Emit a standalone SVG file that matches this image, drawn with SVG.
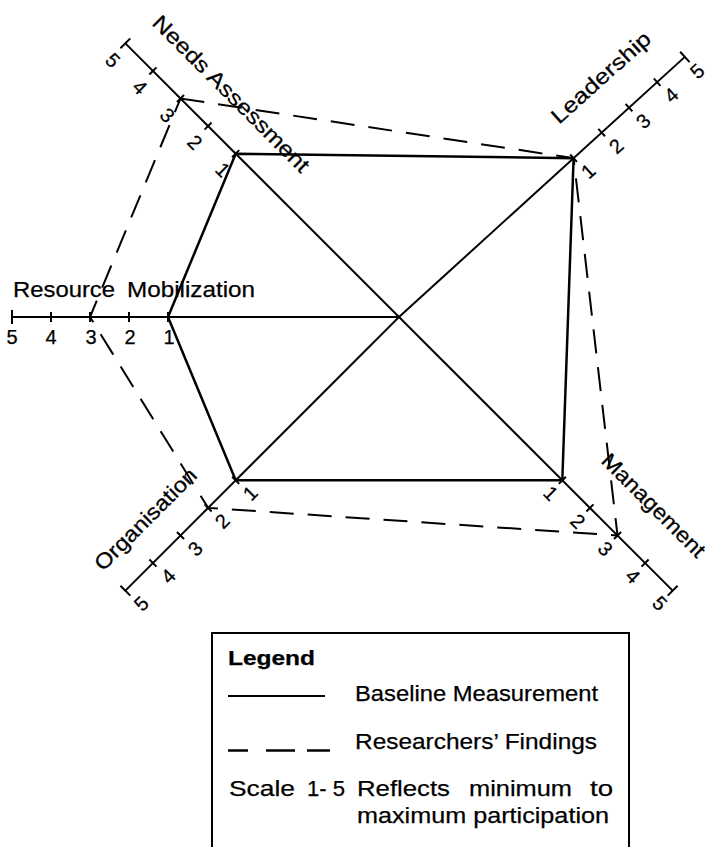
<svg xmlns="http://www.w3.org/2000/svg" width="707" height="847" viewBox="0 0 707 847">
<style>
text{font-family:"Liberation Sans",Arial,Helvetica,sans-serif;fill:#000;stroke:#000;stroke-width:0.25}
.lbl{font-size:21.5px}
.leg{font-size:22px}
.num{font-size:20px;text-anchor:middle}
.axis line,.axis path{stroke:#000;stroke-width:2;fill:none}
.base{stroke:#000;stroke-width:2.5;fill:none;stroke-linejoin:miter}
.find{stroke:#000;stroke-width:2;fill:none;stroke-dasharray:24 14}
</style>
<rect width="707" height="847" fill="#fff"/>

<g id="connectors">
  <g id="axes" class="axis">
    <g id="axis-resource" transform="translate(399,317) rotate(180)">
      <line x1="0" y1="0" x2="387" y2="0"/>
      <path d="M231,-5v10M270,-5v10M309,-5v10M348,-5v10M387,-7v14"/>
    </g>
    <g id="axis-needs" transform="translate(399,317) rotate(225)">
      <line x1="0" y1="0" x2="387" y2="0"/>
      <path d="M231,-5v10M270,-5v10M309,-5v10M348,-5v10M387,-7v14"/>
    </g>
    <g id="axis-leadership" transform="translate(399,317) rotate(-42.3)">
      <line x1="0" y1="0" x2="386.5" y2="0"/>
      <path d="M236,-5v10M274,-5v10M311,-5v10M349,-5v10M386.5,-7v14"/>
    </g>
    <g id="axis-management" transform="translate(399,317) rotate(45)">
      <line x1="0" y1="0" x2="387" y2="0"/>
      <path d="M231,-5v10M270,-5v10M309,-5v10M348,-5v10M387,-7v14"/>
    </g>
    <g id="axis-organisation" transform="translate(399,317) rotate(135)">
      <line x1="0" y1="0" x2="387" y2="0"/>
      <path d="M231,-5v10M270,-5v10M309,-5v10M348,-5v10M387,-7v14"/>
    </g>
  </g>
  <polygon id="baseline" class="base" points="235.7,153.7 573.6,158.2 562.3,480.3 235.7,480.3 168,317"/>
  <polygon id="findings" class="find" points="180.5,98.5 573.6,158.2 617.5,535.5 208.1,507.9 90,317"/>
</g>

<g id="node-resource">
  <text class="lbl" x="13" y="297" textLength="102" lengthAdjust="spacingAndGlyphs">Resource</text>
  <text class="lbl" x="127" y="297" textLength="128" lengthAdjust="spacingAndGlyphs">Mobilization</text>
  <text class="num" x="12" y="344">5</text>
  <text class="num" x="51" y="344">4</text>
  <text class="num" x="91" y="344">3</text>
  <text class="num" x="130" y="344">2</text>
  <text class="num" x="169" y="344">1</text>
</g>

<g id="node-needs">
  <text class="lbl" transform="translate(151,24) rotate(45)" textLength="212" lengthAdjust="spacingAndGlyphs">Needs Assessment</text>
  <text class="num" transform="translate(113,60) rotate(45)" dy="0.36em">5</text>
  <text class="num" transform="translate(140,87) rotate(45)" dy="0.36em">4</text>
  <text class="num" transform="translate(167.5,115) rotate(45)" dy="0.36em">3</text>
  <text class="num" transform="translate(195,142) rotate(45)" dy="0.36em">2</text>
  <text class="num" transform="translate(223,169.5) rotate(45)" dy="0.36em">1</text>
</g>

<g id="node-leadership">
  <text class="lbl" transform="translate(559,125) rotate(-42)" textLength="126" lengthAdjust="spacingAndGlyphs">Leadership</text>
  <text class="num" transform="translate(588,171) rotate(-42)" dy="0.36em">1</text>
  <text class="num" transform="translate(616,146) rotate(-42)" dy="0.36em">2</text>
  <text class="num" transform="translate(643,121) rotate(-42)" dy="0.36em">3</text>
  <text class="num" transform="translate(671,95) rotate(-42)" dy="0.36em">4</text>
  <text class="num" transform="translate(697,71) rotate(-42)" dy="0.36em">5</text>
</g>

<g id="node-management">
  <text class="lbl" transform="translate(600,462) rotate(45)" textLength="137" lengthAdjust="spacingAndGlyphs">Management</text>
  <text class="num" transform="translate(551,493) rotate(45)" dy="0.36em">1</text>
  <text class="num" transform="translate(578,521) rotate(45)" dy="0.36em">2</text>
  <text class="num" transform="translate(605.5,548.5) rotate(45)" dy="0.36em">3</text>
  <text class="num" transform="translate(633,576) rotate(45)" dy="0.36em">4</text>
  <text class="num" transform="translate(660,603) rotate(45)" dy="0.36em">5</text>
</g>

<g id="node-organisation">
  <text class="lbl" transform="translate(103,572) rotate(-45)" textLength="135" lengthAdjust="spacingAndGlyphs">Organisation</text>
  <text class="num" transform="translate(250,493) rotate(-45)" dy="0.36em">1</text>
  <text class="num" transform="translate(222,521) rotate(-45)" dy="0.36em">2</text>
  <text class="num" transform="translate(195,548.5) rotate(-45)" dy="0.36em">3</text>
  <text class="num" transform="translate(168,576) rotate(-45)" dy="0.36em">4</text>
  <text class="num" transform="translate(141,603.5) rotate(-45)" dy="0.36em">5</text>
</g>

<g id="legend">
  <rect x="212" y="633" width="417" height="220" fill="none" stroke="#000" stroke-width="2"/>
  <text x="228" y="665" font-size="20" font-weight="bold" textLength="87" lengthAdjust="spacingAndGlyphs">Legend</text>
  <line x1="228" y1="696" x2="325" y2="696" stroke="#000" stroke-width="2"/>
  <text class="lbl" x="355" y="701" textLength="243" lengthAdjust="spacingAndGlyphs">Baseline Measurement</text>
  <path d="M228,750.5h20M266,750.5h29M307,750.5h23" stroke="#000" stroke-width="2.5" fill="none"/>
  <text class="lbl" x="355" y="749" textLength="242" lengthAdjust="spacingAndGlyphs">Researchers’ Findings</text>
  <text class="leg" x="229" y="796" textLength="66" lengthAdjust="spacingAndGlyphs">Scale</text>
  <text class="leg" x="307" y="796" textLength="38" lengthAdjust="spacingAndGlyphs">1- 5</text>
  <text class="leg" x="357" y="796" textLength="93" lengthAdjust="spacingAndGlyphs">Reflects</text>
  <text class="leg" x="469" y="796" textLength="103" lengthAdjust="spacingAndGlyphs">minimum</text>
  <text class="leg" x="590" y="796" textLength="23" lengthAdjust="spacingAndGlyphs">to</text>
  <text class="leg" x="357" y="823" textLength="252" lengthAdjust="spacingAndGlyphs">maximum participation</text>
</g>
</svg>
